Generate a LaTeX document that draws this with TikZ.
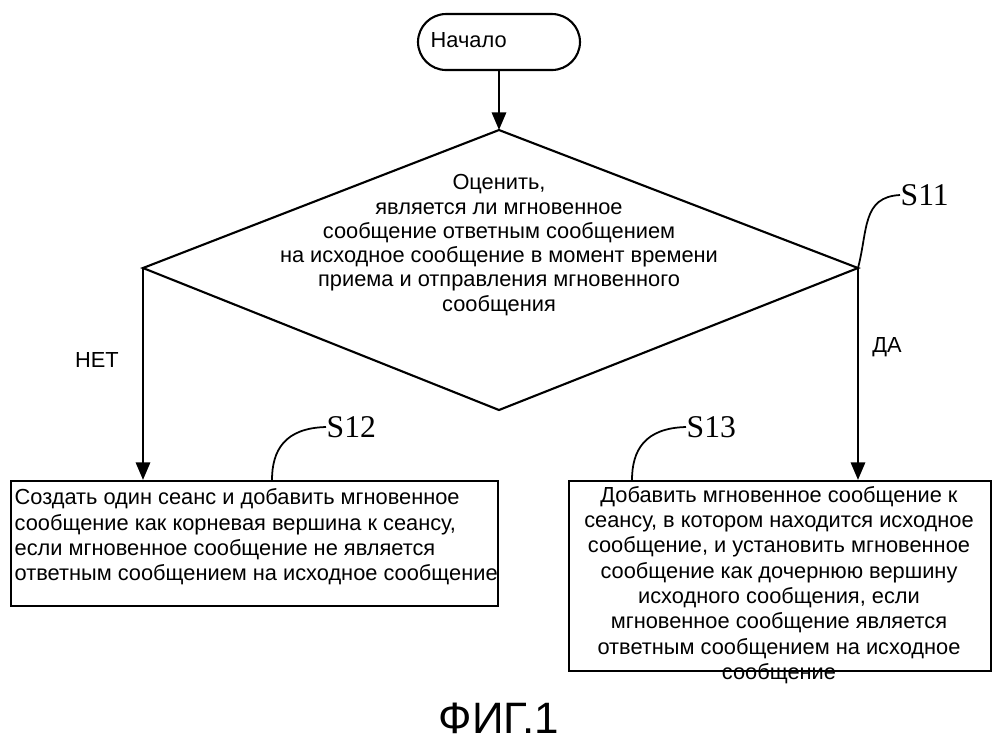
\documentclass[tikz,border=0pt]{standalone}
\usepackage{fontspec}
\setmainfont{Liberation Sans}
\newfontfamily\slabel{Liberation Serif}
\usetikzlibrary{arrows.meta,shapes.geometric,positioning}
\begin{document}
\begin{tikzpicture}[x=0.01cm,y=-0.01cm,
    every node/.style={font=\fontsize{6.2}{6.9}\selectfont, inner sep=0pt},
    stepbox/.style={draw, line width=0.6pt, anchor=north west},
    boxtext/.style={font=\fontsize{6.2}{7.2}\selectfont},
    flow/.style={line width=0.8pt, -{Triangle[length=5pt,width=4pt]}},
    lead/.style={line width=0.5pt},
    tag/.style={font=\slabel\fontsize{9}{10}\selectfont}
]
    \useasboundingbox (0,0) rectangle (999,750);
    % Start
    \node[draw, line width=0.6pt, rounded corners=8pt, minimum width=162*0.01cm, minimum height=56*0.01cm] (start) at (499,42) {};
    \node[anchor=west] (starttxt) at (430,40) {Начало};
    % Decision
    \coordinate (dtop) at (499,130);
    \coordinate (dleft) at (143,268);
    \coordinate (dright) at (858,268);
    \coordinate (dbot) at (499,410);
    \draw[line width=0.6pt] (dtop) -- (dright) -- (dbot) -- (dleft) -- cycle;
    \node[align=center] (dtxt) at (499,245) {Оценить,\\ является ли мгновенное\\ сообщение ответным сообщением\\ на исходное сообщение в момент времени\\ приема и отправления мгновенного\\ сообщения};
    % Boxes
    \node[stepbox, minimum width=487*0.01cm, minimum height=125*0.01cm] (boxno) at (10,480) {};
    \node[boxtext, anchor=north west, align=left] (notxt) at (14,488) {Создать один сеанс и добавить мгновенное\\ сообщение как корневая вершина к сеансу,\\ если мгновенное сообщение не является\\ ответным сообщением на исходное сообщение};
    \node[stepbox, minimum width=422*0.01cm, minimum height=190*0.01cm] (boxyes) at (568,480) {};
    \node[boxtext, align=center] (yestxt) at (779,585) {Добавить мгновенное сообщение к\\ сеансу, в котором находится исходное\\ сообщение, и установить мгновенное\\ сообщение как дочернюю вершину\\ исходного сообщения, если\\ мгновенное сообщение является\\ ответным сообщением на исходное\\ сообщение};
    % Arrows
    \draw[flow] (start.south) -- (dtop);
    \draw[flow] (dleft) -- (143,480);
    \draw[flow] (dright) -- (858,480);
    \node (no) at (97,360) {НЕТ};
    \node (yes) at (887,347) {ДА};
    % Step labels
    \node[tag, anchor=west] (s11) at (900,195) {S11};
    \draw[lead] (dright) .. controls (868,230) and (862,197) .. (s11.west);
    \node[tag, anchor=west] (s12) at (326,427) {S12};
    \draw[lead] (272,480) .. controls (272,450) and (285,428) .. (s12.west);
    \node[tag, anchor=west] (s13) at (686,427) {S13};
    \draw[lead] (632,480) .. controls (632,450) and (645,428) .. (s13.west);
    % Caption
    \node[font=\fontsize{12.5}{14}\selectfont] (fig) at (499,718) {ФИГ.1};
\end{tikzpicture}
\end{document}
